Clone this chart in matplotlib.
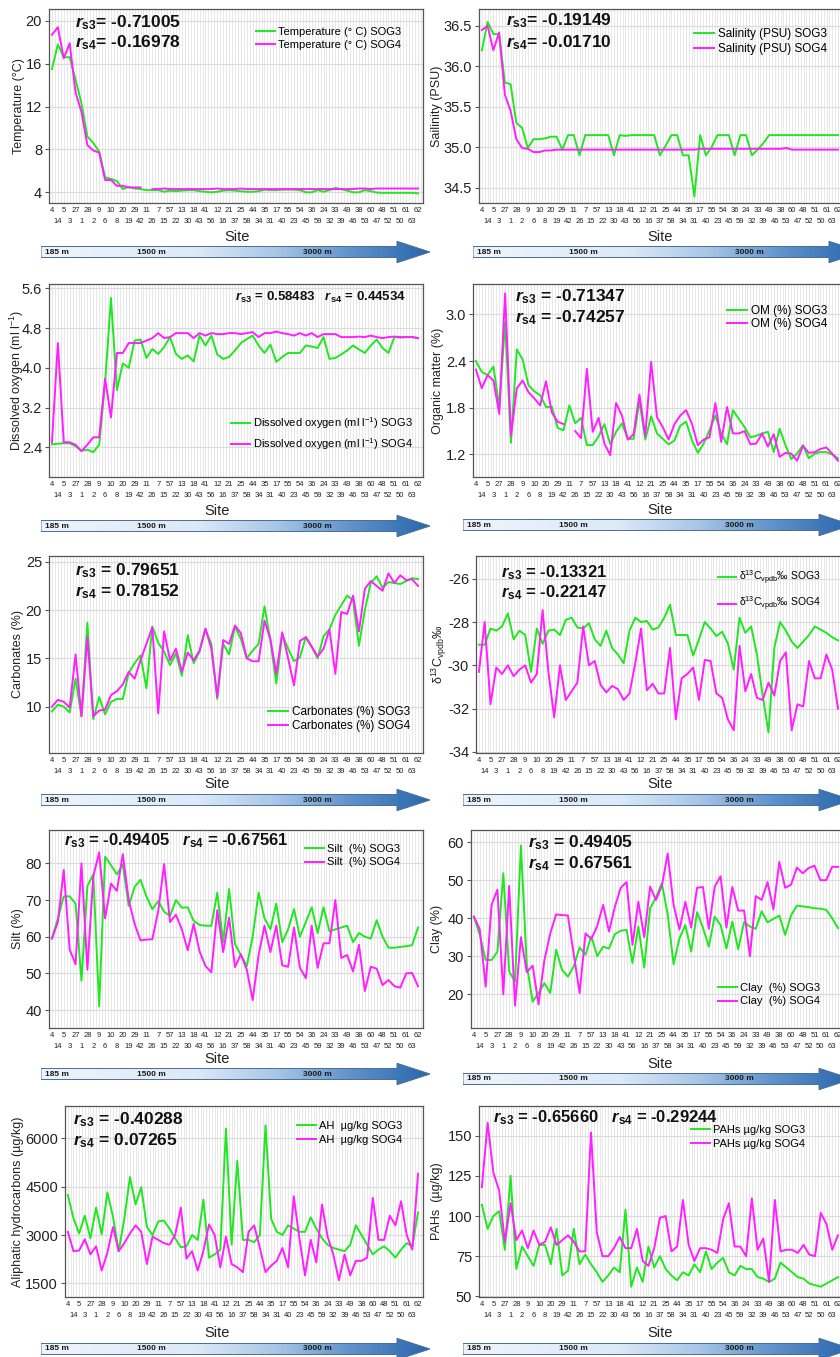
import numpy as np
import matplotlib
matplotlib.use("Agg")
import matplotlib.pyplot as plt
from matplotlib import font_manager
from matplotlib.patches import Polygon
from matplotlib.colors import LinearSegmentedColormap
from matplotlib.ticker import FormatStrFormatter

nan = np.nan

# site order along the depth transect
sites = [4, 14, 5, 3, 27, 1, 28, 2, 9, 6, 10, 8, 20, 19, 29, 42, 11, 26, 7, 15, 57, 22, 13, 30,
         18, 43, 41, 56, 12, 16, 21, 37, 25, 58, 44, 34, 35, 31, 17, 40, 55, 23, 54, 45, 36, 59,
         24, 32, 33, 39, 49, 46, 38, 53, 60, 47, 48, 52, 51, 50, 61, 63, 62]

temp_sog3 = [15.5, 17.8, 16.6, 16.6, 14.5, 12.3, 9.2, 8.6, 7.8, 5.4, 5.25, 5.05, 4.3, 4.5, 4.35, 4.3,
             4.2, 4.2, 4.2, 4.05, 4.15, 4.1, 4.15, 4.2, 4.2, 4.1, 4.05, 4.0, 4.05, 4.15, 4.2, 4.15,
             4.1, 4.05, 4.05, 4.1, 4.25, 4.2, 4.2, 4.25, 4.25, 4.25, 4.2, 4.0, 4.0, 4.2, 4.05, 4.2,
             4.4, 4.3, 4.15, 4.0, 4.0, 4.2, 4.1, 3.98, 3.95, 3.95, 3.95, 3.95, 3.95, 3.95, 3.9]
temp_sog4 = [18.7, 19.4, 16.5, 17.9, 13.3, 11.5, 8.4, 7.9, 7.7, 5.15, 5.15, 4.6, 4.6, 4.45, 4.45, 4.45,
             nan, 4.3, 4.3, 4.35, 4.3, 4.3, 4.3, 4.3, 4.3, 4.3, 4.3, 4.3, 4.35, 4.3, 4.3, 4.3,
             4.35, 4.3, 4.3, 4.3, 4.3, 4.3, 4.3, 4.3, 4.3, 4.3, 4.3, 4.3, 4.3, 4.3, 4.3, 4.3,
             4.3, 4.3, 4.3, 4.3, 4.35, 4.35, 4.3, 4.35, 4.35, 4.35, 4.35, 4.35, 4.35, 4.35, 4.35]

sal_sog3 = [36.2, 36.55, 36.4, 36.4, 35.8, 35.78, 35.3, 35.24, 34.99, 35.1, 35.1, 35.11, 35.13, 35.13,
            34.97, 35.15, 35.15, 34.9, 35.15, 35.15, 35.15, 35.15, 35.15, 34.9, 35.15, 35.14, 35.15,
            35.15, 35.15, 35.15, 35.15, 34.9, 35.02, 35.15, 35.15, 34.9, 34.9, 34.39, 35.15, 34.9,
            35.0, 35.15, 35.15, 35.15, 34.9, 35.15, 35.15, 34.9, 34.97, 35.05, 35.15, 35.15, 35.15,
            35.15, 35.15, 35.15, 35.15, 35.15, 35.15, 35.15, 35.15, 35.15, 35.15]
sal_sog4 = [36.45, 36.5, 36.2, 36.42, 35.65, 35.45, 35.1, 34.99, 34.98, 34.94, 34.94, 34.96, 34.96,
            34.97, 34.97, 34.97, 34.97, 34.97, 34.97, 34.97, 34.97, 34.97, 34.97, 34.97, 34.97, 34.97,
            34.97, 34.97, 34.97, 34.97, 34.97, 34.97, 34.97, 34.97, 34.97, 34.97, 34.97, 34.97, 34.98,
            34.98, 34.98, 34.98, 34.98, 34.98, 34.98, 34.98, 34.98, 34.98, 34.98, 34.98, 34.98, 34.98,
            34.98, 34.99, 34.97, 34.97, 34.97, 34.97, 34.97, 34.97, 34.97, 34.97, 34.97]

do_sog3 = [2.46, 2.47, 2.48, 2.48, 2.42, 2.33, 2.35, 2.30, 2.45, 3.70, 5.41, 3.55, 4.09, 4.00, 4.55,
           4.57, 4.20, 4.38, 4.28, 4.42, 4.62, 4.28, 4.18, 4.25, 4.13, 4.65, 4.45, 4.65, 4.27, 4.18,
           4.22, 4.35, 4.50, 4.58, 4.65, 4.45, 4.30, 4.47, 4.12, 4.22, 4.30, 4.30, 4.30, 4.45, 4.43,
           4.40, 4.62, 4.18, 4.20, 4.27, 4.35, 4.45, 4.37, 4.30, 4.45, 4.57, 4.40, 4.30, 4.62, 4.61,
           4.62, 4.62, 4.60]
do_sog4 = [2.50, 4.50, 2.50, 2.50, 2.45, 2.32, 2.45, 2.60, 2.60, 3.78, 3.00, 4.30, 4.30, 4.50, 4.50,
           4.50, 4.55, 4.60, 4.70, 4.60, 4.62, 4.70, 4.70, 4.70, 4.60, 4.70, 4.65, 4.70, 4.68, 4.68,
           4.70, 4.70, 4.68, 4.70, 4.72, 4.62, 4.70, 4.70, 4.73, 4.70, 4.68, 4.65, 4.70, 4.65, 4.70,
           4.62, 4.68, 4.68, 4.68, 4.62, 4.62, 4.62, 4.63, 4.62, 4.65, 4.62, 4.60, 4.62, 4.63, 4.62,
           4.62, 4.62, 4.60]

om_sog3 = [2.40, 2.26, 2.22, 2.33, 1.81, 2.90, 1.35, 2.55, 2.42, 2.09, 2.01, 1.96, 1.81, 1.81, 1.54,
           1.51, 1.83, 1.60, 1.67, 1.32, 1.32, 1.43, 1.59, 1.33, 1.49, 1.60, 1.40, 1.40, 1.89, 1.39,
           1.69, 1.47, 1.40, 1.33, 1.38, 1.57, 1.62, 1.38, 1.22, 1.34, 1.51, 1.70, 1.47, 1.33, 1.77,
           1.66, 1.55, 1.42, 1.44, 1.47, 1.49, 1.23, 1.53, 1.32, 1.14, 1.21, 1.32, 1.15, 1.21, 1.23,
           1.23, 1.20, 1.15]
om_sog4 = [2.29, 2.05, 2.22, 2.15, 1.72, 3.27, 1.44, 2.05, 2.15, 2.00, 1.92, 1.83, 2.14, 1.74, 1.62,
           1.59, nan, 1.50, 1.41, 2.30, 1.49, 1.67, 1.34, 1.19, 1.86, 1.70, 1.39, 1.46, 1.97, 1.44,
           2.39, 1.68, 1.55, 1.39, 1.59, 1.70, 1.77, 1.59, 1.32, 1.39, 1.42, 1.86, 1.36, 1.81, 1.47,
           1.47, 1.50, 1.33, 1.34, 1.47, 1.30, 1.46, 1.17, 1.22, 1.21, 1.12, 1.31, 1.22, 1.23, 1.27,
           1.29, 1.21, 1.12]

carb_sog3 = [9.5, 10.2, 10.0, 9.4, 12.9, 9.0, 18.7, 8.7, 11.0, 9.2, 10.5, 10.8, 10.8, 13.5, 14.5, 15.3,
             11.9, 18.3, 16.6, 15.7, 14.3, 15.5, 13.2, 17.4, 14.5, 15.7, 18.0, 16.5, 10.8, 16.5, 15.4,
             18.3, 17.0, 15.0, 15.8, 16.5, 20.4, 16.8, 12.4, 17.5, 16.0, 14.7, 15.1, 17.2, 16.2, 15.0,
             17.3, 18.0, 19.5, 20.5, 21.5, 21.0, 16.3, 20.0, 22.8, 23.5, 22.3, 22.9, 22.8, 22.7, 23.0,
             23.3, 23.2]
carb_sog4 = [10.0, 10.7, 10.5, 9.9, 15.4, 9.0, 17.2, 9.0, 9.6, 9.7, 11.2, 11.6, 12.3, 13.6, 12.9, 14.8,
             16.5, 18.2, 9.3, 17.8, 14.8, 16.0, 13.6, 15.6, 14.8, 15.8, 18.1, 16.0, 11.0, 16.9, 16.5,
             18.4, 17.6, 15.0, 14.7, 14.7, 18.9, 17.0, 13.4, 17.7, 15.0, 12.2, 16.8, 17.2, 16.2, 15.2,
             16.0, 18.0, 13.4, 19.8, 19.6, 21.5, 17.8, 22.2, 23.0, 22.5, 22.0, 23.8, 22.8, 23.6, 23.1,
             23.2, 22.5]

d13c_sog3 = [-29.05, -29.05, -28.3, -28.4, -28.2, -27.6, -28.8, -28.4, -28.6, -30.3, -28.3, -29.0,
             -28.4, -28.35, -28.6, -27.9, -27.8, -28.25, -28.3, -28.05, -28.8, -29.1, -28.4, -29.2,
             -29.5, -29.9, -28.4, -27.8, -28.0, -27.95, -28.35, -28.25, -27.8, -27.2, -28.6, -28.6,
             -28.6, -29.55, -28.8, -28.0, -28.3, -28.65, -28.45, -29.0, -30.2, -27.8, -28.5, -28.2,
             -29.5, -31.4, -33.1, -29.2, -28.0, -28.4, -28.9, -29.2, -28.9, -28.6, -28.2, -28.35,
             -28.5, -28.7, -28.85]
d13c_sog4 = [-30.3, -28.0, -31.8, -30.1, -30.4, -30.0, -30.5, -30.2, -30.0, -30.8, -30.4, -27.45,
             -30.3, -32.4, -30.0, -31.6, -31.2, -30.8, -28.2, -30.0, -29.8, -30.9, -31.25, -30.95,
             -31.1, -31.6, -31.3, -29.9, -28.3, -31.15, -30.85, -31.3, -31.3, -29.2, -32.5, -30.6,
             -30.4, -30.1, -31.6, -29.75, -29.8, -31.3, -31.5, -32.5, -33.0, -29.1, -31.2, -30.4,
             -31.5, -31.6, -30.8, -31.4, -29.8, -29.4, -33.0, -31.8, -31.9, -29.8, -30.6, -30.6,
             -29.5, -30.2, -32.0]

silt_sog3 = [59.5, 65, 71, 71, 69, 48, 73.8, 77, 41, 81.8, 79.5, 77, 79.7, 68.4, 73.6, 75.5, 71, 67.5,
             69.7, 66.8, 65.7, 70, 67.9, 68, 64.3, 63.2, 63, 63, 72, 58.5, 73, 58, 55, 52, 60, 72, 65,
             62, 69, 58.5, 62, 67.5, 60, 64, 68, 61, 68, 61.5, 62, 62.5, 63, 58.5, 61, 60, 59.5, 64.5,
             60, 57, 57, 57.2, 57.4, 57.7, 62.5]
silt_sog4 = [59.5, 64, 78.2, 56.5, 52.5, 80, 51, 76.5, 83, 65, 74.5, 72.5, 82.5, 70, 63.5, 59, 59.2,
             59.3, 67, 79.8, 64, 66, 62, 56.3, 63.5, 56, 52, 50.3, 67.2, 55.8, 65.2, 51.7, 55.2, 51,
             42.7, 55, 63, 55.8, 63, 52.2, 51.8, 62.5, 51.5, 48.7, 63, 51.5, 58.2, 58.2, 70, 54.2, 55,
             50.5, 57.8, 45.2, 51.8, 51.3, 46.8, 48.2, 46.5, 46.1, 50, 50.1, 46.5]

clay_sog3 = [40.4, 35.6, 29, 29, 31.2, 51.8, 26, 23.3, 59.1, 27.7, 18, 20.3, 22.9, 20.3, 31.7, 26.4,
             24.6, 27.3, 32.3, 30.4, 35.2, 30, 32.5, 32, 35.8, 36.7, 36.9, 28.2, 37.8, 27, 42.6, 45.4,
             49.2, 40.9, 27.9, 34.7, 38.2, 31.2, 41.6, 37.5, 32.5, 40.4, 38.2, 32, 39.1, 31.8, 38.9,
             37.8, 37.2, 41.8, 38.9, 39.8, 40.7, 35.6, 40.7, 43.3, 43.1, 42.9, 42.6, 42.5, 42.2, 40,
             37.4]
clay_sog4 = [40.4, 37, 22, 43.5, 47.5, 20, 48.5, 17, 35, 25.8, 27.5, 17.3, 29, 36, 41, 40.8, 40.7, 30.5,
             20.3, 36, 34.5, 38, 43.5, 36.5, 43, 48, 49.5, 33, 44.3, 35, 48.3, 44.8, 48.5, 57, 43.5, 37,
             44.3, 37.5, 48, 48.2, 37.2, 48.3, 51, 37.5, 48.2, 42, 42, 30, 45.8, 44.8, 49.5, 42.3, 54.8,
             48, 48.8, 53.3, 51.8, 53.2, 53.8, 50, 50, 53.5, 53.5]

ah_sog3 = [4240, 3520, 3050, 3600, 2900, 3850, 3030, 4320, 3570, 2500, 3500, 4800, 3950, 4480, 3250,
           3000, 3420, 3450, 3200, 2900, 2620, 2650, 3000, 2850, 4100, 2300, 2400, 2550, 6300, 2700,
           5300, 2850, 2850, 2780, 3000, 6400, 3500, 3100, 3000, 3300, 3200, 3100, 3100, 3550, 3200,
           2900, 2700, 2600, 2550, 2500, 2700, 3300, 3000, 2700, 2400, 2550, 2650, 2500, 2300, 2550,
           2750, 2650, 3700]
ah_sog4 = [3100, 2500, 2520, 2870, 2400, 2650, 1900, 2450, 3250, 2500, 2750, 3050, 3300, 3100, 2100,
           2950, 2850, 2750, 2700, 3000, 3850, 2270, 2500, 1900, 2500, 3330, 3000, 2000, 2950, 2100,
           2000, 1850, 3100, 3300, 2600, 1850, 2050, 2200, 2600, 2000, 4200, 2900, 1750, 2850, 2150,
           3950, 2950, 2400, 1600, 2400, 1750, 2200, 2200, 2300, 4150, 2850, 2850, 3600, 3300, 4050,
           3000, 2550, 4900]

pah_sog3 = [107, 92, 100, 103, 79, 125, 67, 81, 75, 69, 82, 82, 70, 92, 63, 66, 92, 70, 76, 70, 65, 59,
            63, 68, 65, 104, 56, 68, 59, 81, 68, 75, 67, 63, 60, 65, 63, 70, 65, 78, 67, 71, 74, 65, 63,
            69, 67, 67, 62, 61, 59, 61, 71, 68, 65, 62, 61, 58, 57, 56, 58, 60, 62]
pah_sog4 = [118, 158, 127, 116, 84, 108, 85, 91, 80, 91, 82, 84, 93, 82, 85, 88, 84, 78, 78, 152, 90,
            75, 75, 80, 87, 80, 80, 92, 72, 69, 80, 99, 100, 78, 81, 110, 82, 72, 80, 80, 79, 77, 98,
            108, 81, 81, 75, 111, 79, 86, 59, 110, 78, 79, 79, 77, 82, 76, 75, 102, 95, 79, 88]

depth_marks = ["185 m", "1500 m", "3000 m"]

# fonts
names = {f.name for f in font_manager.fontManager.ttflist}
base = 'Liberation Sans' if 'Liberation Sans' in names else 'DejaVu Sans'
plt.rcParams['font.family'] = [base, 'DejaVu Sans']
plt.rcParams['mathtext.fontset'] = 'custom'
plt.rcParams['mathtext.rm'] = base
plt.rcParams['mathtext.it'] = base + ':italic'
plt.rcParams['mathtext.bf'] = base + ':bold'
try:
    plt.rcParams['mathtext.bfit'] = base + ':bold:italic'
except KeyError:
    pass

GREEN = '#22e622'
MAGENTA = '#ff1fff'
W, H = 840, 1357
fig = plt.figure(figsize=(W / 100, H / 100), dpi=100)

arrow_cmap = LinearSegmentedColormap.from_list(
    'depth', [(0, '#eef4fb'), (0.4, '#dce9f7'), (0.6, '#aac7e7'), (0.8, '#5f92ca'), (1.0, '#2a66ad')])


def px_axes(x0, y0, x1, y1):
    return fig.add_axes([x0 / W, 1 - y1 / H, (x1 - x0) / W, (y1 - y0) / H])


def ftext(x, y, s, **kw):
    return fig.text(x / W, 1 - y / H, s, **kw)


def draw_arrow(x0, tip, yc):
    L = tip - x0
    ax = px_axes(x0, yc - 11, tip, yc + 11)
    ax.set_xlim(0, L)
    ax.set_ylim(0, 22)
    ax.axis('off')
    img = ax.imshow(np.linspace(0, 1, 400)[None, :], cmap=arrow_cmap, extent=[0, L, 0, 22],
                    aspect='auto', interpolation='bilinear')
    hb = L - 33
    shape = Polygon([(0, 5.5), (hb, 5.5), (hb, 0.3), (L, 11), (hb, 21.7), (hb, 16.5), (0, 16.5)],
                    closed=True, facecolor='none', edgecolor='#4a6d94', lw=0.7)
    ax.add_patch(shape)
    img.set_clip_path(shape)
    for dx, t in zip((4, 96, 262), depth_marks):
        ftext(x0 + dx, yc, t, fontsize=6, fontweight='bold', color='#1a1a1a', va='center', ha='left')


def panel(x0, y0, y1, s3, s4, lab3, lab4, ylim, yticks, yfmt, right_end=838):
    step = (right_end - x0) / 62.5
    x1 = x0 + 63.4 * step
    ax = px_axes(x0, y0, x1, y1)
    x = np.arange(len(sites))
    ax.plot(x, s3, color=GREEN, lw=1.4, label=lab3)
    ax.plot(x, s4, color=MAGENTA, lw=1.4, label=lab4)
    ax.set_xlim(-0.5, 62.9)
    ax.set_ylim(*ylim)
    # site labels in two staggered rows
    ax.set_xticks(x[::2])
    ax.set_xticklabels([str(s) for s in sites[::2]])
    ax.set_xticks(x[1::2], minor=True)
    ax.set_xticklabels([str(s) for s in sites[1::2]], minor=True)
    ax.tick_params(axis='x', which='major', length=0, pad=3, labelsize=5.5, labelcolor='#222222')
    ax.tick_params(axis='x', which='minor', length=0, pad=11, labelsize=5.5, labelcolor='#222222')
    ax.vlines(np.arange(-0.5, 63, 0.5), 0, 1, transform=ax.get_xaxis_transform(),
              color='#e4e4e4', lw=0.6, zorder=0)
    ax.set_yticks(yticks)
    ax.yaxis.set_major_formatter(FormatStrFormatter(yfmt))
    ax.tick_params(axis='y', labelsize=10.5, length=3, width=0.8, color='#555555', pad=2,
                   labelcolor='#222222')
    ax.grid(True, which='major', axis='y', color='#dcdcdc', lw=0.9)
    ax.set_axisbelow(True)
    for sp in ax.spines.values():
        sp.set_color('#555555')
        sp.set_linewidth(0.9)
    return ax


def legend(ax, x, yc, fs, spacing=0.25, hl=1.7):
    ytop = yc - 0.62 * fs * 100 / 72
    ax.legend(loc='upper left', bbox_to_anchor=(x / W, 1 - ytop / H), bbox_transform=fig.transFigure,
              frameon=False, fontsize=fs, borderpad=0, borderaxespad=0, handlelength=hl,
              handletextpad=0.3, labelspacing=spacing)


def rs(n, v, sp=' '):
    return r'$\mathbfit{r}_{\mathbf{s%d}}$' % n + sp + '= ' + v


def rtext(x, y, s, fs):
    ftext(x, y, s, fontsize=fs, fontweight='bold', va='center', ha='left', color='#111111')


def ylab(x, y0, y1, s, fs=9):
    ftext(x, (y0 + y1) / 2, s, fontsize=fs, rotation=90, va='center', ha='center', color='#222222')


# row 1
a = panel(49, 9, 203, temp_sog3, temp_sog4, 'Temperature (° C) SOG3', 'Temperature (° C) SOG4',
          (3.0, 21.1), [4, 8, 12, 16, 20], '%d', right_end=418)
legend(a, 256, 34, 8)
rtext(75, 23, rs(3, '-0.71005', ''), 12.5)
rtext(75, 43, rs(4, '-0.16978', ''), 12.5)
ylab(19, 9, 203, 'Temperature (°C)')

a = panel(479, 9, 203, sal_sog3, sal_sog4, 'Salinity (PSU) SOG3', 'Salinity (PSU) SOG4',
          (34.31, 36.71), [34.5, 35.0, 35.5, 36.0, 36.5], '%.1f')
legend(a, 694, 35, 8.5)
rtext(506, 21, rs(3, '-0.19149', ''), 12.5)
rtext(506, 43, rs(4, '-0.01710', ''), 12.5)
ylab(437, 9, 203, 'Sailinity (PSU)')

# row 2
a = panel(49, 284, 477, do_sog3, do_sog4, r'Dissolved oxygen (ml l$^{-1}$) SOG3',
          r'Dissolved oxygen (ml l$^{-1}$) SOG4', (1.8, 5.69), [2.4, 3.2, 4.0, 4.8, 5.6], '%.1f',
          right_end=418)
legend(a, 231, 422, 8, spacing=0.45)
rtext(235, 297, rs(3, '0.58483') + '   ' + rs(4, '0.44534'), 9.5)
ylab(17, 284, 477, r'Dissolved oxygen (ml l$^{-1}$)')

a = panel(473, 284, 477, om_sog3, om_sog4, 'OM (%) SOG3', 'OM (%) SOG4',
          (0.91, 3.39), [1.2, 1.8, 2.4, 3.0], '%.1f')
legend(a, 727, 312, 8.5, spacing=0.1)
rtext(515, 297, rs(3, '-0.71347'), 12.5)
rtext(515, 318, rs(4, '-0.74257'), 12.5)
ylab(438, 284, 477, 'Organic matter (%)')

# row 3
a = panel(49, 556, 753, carb_sog3, carb_sog4, 'Carbonates (%) SOG3', 'Carbonates (%) SOG4',
          (5.2, 25.6), [10, 15, 20, 25], '%d', right_end=418)
legend(a, 268, 713, 8.5, spacing=0.2)
rtext(75, 571, rs(3, '0.79651'), 12.5)
rtext(75, 592, rs(4, '0.78152'), 12.5)
ylab(18, 556, 753, 'Carbonates (%)')

a = panel(476, 556, 753, d13c_sog3, d13c_sog4, 'δ$^{13}$C$_{\\mathrm{vpdb}}$‰ SOG3',
          'δ$^{13}$C$_{\\mathrm{vpdb}}$‰ SOG4', (-34.05, -24.95), [-34, -32, -30, -28, -26], '%d')
legend(a, 718, 575, 7.5, spacing=0.8)
rtext(501, 573, rs(3, '-0.13321'), 12)
rtext(501, 593, rs(4, '-0.22147'), 12)
ylab(439, 556, 753, 'δ$^{13}$C$_{\\mathrm{vpdb}}$‰')

# row 4
a = panel(49, 830, 1028, silt_sog3, silt_sog4, 'Silt  (%) SOG3', 'Silt  (%) SOG4',
          (35.1, 89.1), [40, 50, 60, 70, 80], '%d', right_end=418)
legend(a, 305, 851, 8, spacing=0.3)
rtext(64, 841, rs(3, '-0.49405') + '   ' + rs(4, '-0.67561'), 12)
ylab(18, 830, 1028, 'Silt (%)')

a = panel(471, 830, 1028, clay_sog3, clay_sog4, 'Clay  (%) SOG3', 'Clay  (%) SOG4',
          (11.1, 63.2), [20, 30, 40, 50, 60], '%d')
legend(a, 718, 990, 8, spacing=0.3)
rtext(528, 843, rs(3, '0.49405'), 12.5)
rtext(528, 864, rs(4, '0.67561'), 12.5)
ylab(437, 830, 1028, 'Clay (%)')

# row 5
a = panel(65, 1106, 1297, ah_sog3, ah_sog4, 'AH  µg/kg SOG3', 'AH  µg/kg SOG4',
          (1080, 7000), [1500, 3000, 4500, 6000], '%d', right_end=418)
legend(a, 297, 1128, 8, spacing=0.35)
rtext(73, 1120, rs(3, '-0.40288'), 12.5)
rtext(73, 1141, rs(4, '0.07265'), 12.5)
ylab(18, 1106, 1297, 'Aliphatic hydrocarbons (µg/kg)')

a = panel(479, 1106, 1297, pah_sog3, pah_sog4, 'PAHs µg/kg SOG3', 'PAHs µg/kg SOG4',
          (49.6, 168.5), [50, 75, 100, 125, 150], '%d')
legend(a, 691, 1132, 8, spacing=0.35)
rtext(493, 1118, rs(3, '-0.65660') + '   ' + rs(4, '-0.29244'), 12)
ylab(437, 1106, 1297, 'PAHs  (µg/kg)')

# site labels and depth arrows
for (yl, yr), (al, ar) in zip([(237, 237), (511, 510), (784, 784), (1059, 1064), (1333, 1333)],
                              [(252, 252), (526, 525), (800, 800), (1074, 1079), (1349, 1349)]):
    ftext(217 if yl != 237 else 237, yl, 'Site', fontsize=10.5, ha='center', va='center', color='#222222')
    ftext(660, yr, 'Site', fontsize=10.5, ha='center', va='center', color='#222222')
    draw_arrow(41, 430, al)
    draw_arrow(473 if al == 252 else 463, 862 if al == 252 else 852, ar)

fig.savefig('out.png', dpi=100)
